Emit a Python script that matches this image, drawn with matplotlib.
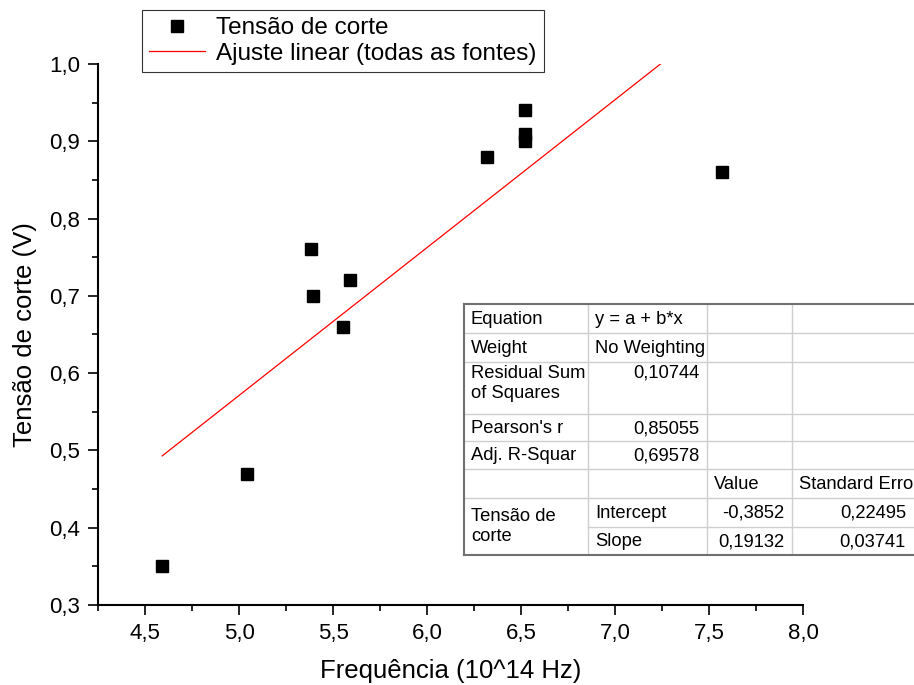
import matplotlib
matplotlib.use("Agg")
import matplotlib.pyplot as plt
from matplotlib.lines import Line2D
from matplotlib.patches import Rectangle
from matplotlib.ticker import MultipleLocator, FuncFormatter

plt.rcParams['font.family'] = ['Liberation Sans', 'DejaVu Sans']

# frequencia (10^14 Hz) e tensao de corte (V)
freq = [4.59, 5.04, 5.38, 5.39, 5.55, 5.59, 6.32, 6.52, 6.52, 6.52, 7.57]
volt = [0.35, 0.47, 0.76, 0.70, 0.66, 0.72, 0.88, 0.94, 0.91, 0.90, 0.86]

# parametros do ajuste linear (do quadro do Origin)
intercept = -0.3852
slope = 0.19132

# linhas do quadro de resultados
table_rows = [
    ("Equation", "y = a + b*x", "", ""),
    ("Weight", "No Weighting", "", ""),
    ("Residual Sum\nof Squares", "0,10744", "", ""),
    ("Pearson's r", "0,85055", "", ""),
    ("Adj. R-Squar", "0,69578", "", ""),
    ("", "", "Value", "Standard Erro"),
    ("Tensão de\ncorte", "Intercept", "-0,3852", "0,22495"),
    ("", "Slope", "0,19132", "0,03741"),
]

W, H = 914, 685
fig = plt.figure(figsize=(W / 100, H / 100), dpi=100)


def fx(px):
    return px / W


def fy(py):
    return 1 - py / H


ax = fig.add_axes([fx(98.3), fy(605), fx(803.3) - fx(98.3), fy(64) - fy(605)])

ax.plot(freq, volt, 's', color='black', markersize=8.6, label='Tensão de corte', zorder=3)
x_fit = [min(freq), max(freq)]
y_fit = [intercept + slope * x for x in x_fit]
ax.plot(x_fit, y_fit, '-', color='red', lw=0.9, label='Ajuste linear (todas as fontes)')

ax.set_xlim(4.25, 8.0)
ax.set_ylim(0.3, 1.0)
ax.xaxis.set_major_locator(MultipleLocator(0.5))
ax.xaxis.set_minor_locator(MultipleLocator(0.25))
ax.yaxis.set_major_locator(MultipleLocator(0.1))
ax.yaxis.set_minor_locator(MultipleLocator(0.05))
comma = FuncFormatter(lambda v, p: f"{v:.1f}".replace('.', ','))
ax.xaxis.set_major_formatter(comma)
ax.yaxis.set_major_formatter(comma)
ax.tick_params(which='major', direction='out', length=7.5, width=1.2, labelsize=16, pad=5.5)
ax.tick_params(which='minor', direction='out', length=4, width=1.2)
for s in ['top', 'right']:
    ax.spines[s].set_visible(False)
for s in ['left', 'bottom']:
    ax.spines[s].set_linewidth(1.5)

ax.set_xlabel('Frequência (10^14 Hz)', fontsize=18.5, labelpad=11)
ax.set_ylabel('Tensão de corte (V)', fontsize=18.5, labelpad=9)

leg = ax.legend(loc='upper left', bbox_to_anchor=(fx(142), fy(10)), bbox_transform=fig.transFigure,
                fontsize=17.5, frameon=True, fancybox=False, edgecolor='black', borderaxespad=0,
                borderpad=0.3, labelspacing=0.15, handlelength=2.3, handletextpad=0.45)
leg.get_frame().set_linewidth(0.8)

# quadro de resultados do ajuste
col_x = [464, 588, 707, 792, 914]
row_y = [304, 333, 362, 414, 441, 469, 498, 527, 555]
fig.add_artist(Rectangle((fx(464), fy(555)), fx(914) - fx(464), fy(304) - fy(555),
                         transform=fig.transFigure, facecolor='white', edgecolor='none', zorder=4))
inner = '#cfcfcf'
outer = '#707070'
for i, y in enumerate(row_y[1:-1], start=1):
    x0 = col_x[1] if i == 7 else col_x[0]
    fig.add_artist(Line2D([fx(x0), fx(914)], [fy(y), fy(y)], color=inner, lw=1,
                          transform=fig.transFigure, zorder=5))
for x in col_x[1:4]:
    fig.add_artist(Line2D([fx(x), fx(x)], [fy(304), fy(555)], color=inner, lw=1,
                          transform=fig.transFigure, zorder=5))
fig.add_artist(Line2D([fx(464), fx(914)], [fy(304), fy(304)], color=outer, lw=1.5,
                      transform=fig.transFigure, zorder=6))
fig.add_artist(Line2D([fx(464), fx(914)], [fy(555), fy(555)], color=outer, lw=1.5,
                      transform=fig.transFigure, zorder=6))
fig.add_artist(Line2D([fx(464), fx(464)], [fy(304), fy(555)], color=outer, lw=1.5,
                      transform=fig.transFigure, zorder=6))

tfs = 13.2
for r, row in enumerate(table_rows):
    top, bot = row_y[r], row_y[r + 1]
    for c, txt in enumerate(row):
        if not txt:
            continue
        left, right = col_x[c], col_x[c + 1]
        numeric = txt[0].isdigit() or txt.startswith('-')
        if c == 0 and r == 6:
            # celula mesclada em duas linhas
            yc = (top + row_y[r + 2]) / 2
            va = 'center'
        elif r == 2:
            yc = top + 3
            va = 'top'
        else:
            yc = (top + bot) / 2 + 1
            va = 'center'
        if numeric:
            fig.text(fx(right - 8), fy(yc), txt, ha='right', va=va, fontsize=tfs, zorder=7,
                     linespacing=1.25)
        else:
            fig.text(fx(left + 7), fy(yc), txt, ha='left', va=va, fontsize=tfs, zorder=7,
                     linespacing=1.25)

fig.savefig('out.png', dpi=100)
